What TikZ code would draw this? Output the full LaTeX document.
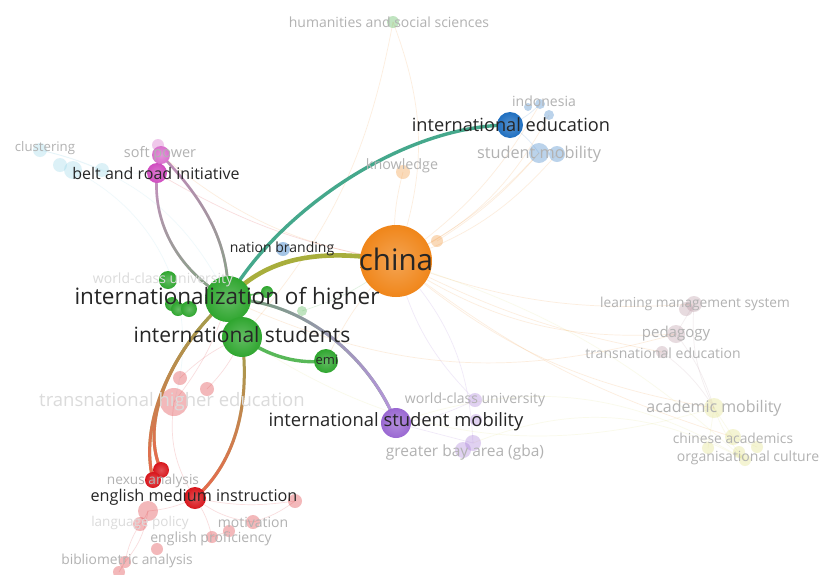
\documentclass[tikz,border=0pt]{standalone}
\usepackage{fontspec}
\setmainfont{Open Sans}
\usetikzlibrary{fadings}
\definecolor{vorange}{HTML}{F0861A}
\definecolor{vgreen}{HTML}{2FA62F}
\definecolor{vblue}{HTML}{1F6FC0}
\definecolor{vpurple}{HTML}{9A68D2}
\definecolor{vmag}{HTML}{D04CC0}
\definecolor{vred}{HTML}{D8161C}
\definecolor{vcyan}{HTML}{8ED3E6}
\definecolor{vmauve}{HTML}{B08896}
\definecolor{vyellow}{HTML}{DCDC70}
\definecolor{vteal}{HTML}{45A88C}
\definecolor{volive}{HTML}{A8AE3C}
\tikzfading[name=fadedown, top color=transparent!100, bottom color=transparent!0]
\tikzfading[name=faderight, left color=transparent!100, right color=transparent!0]
\tikzset{
  kw/.style={circle,inner sep=0pt,minimum size=#1},
  ball/.style={shading=radial,inner color=#1!75!white,outer color=#1},
  dimball/.style={fill=#1,opacity=.3},
  lab/.style={font=\fontsize{#1}{#1}\selectfont,text=black!85,inner sep=0pt},
  dimlab/.style={font=\fontsize{#1}{#1}\selectfont,text=black!30,inner sep=0pt},
  ghostlab/.style={font=\fontsize{#1}{#1}\selectfont,text=black!14,inner sep=0pt},
  faint/.style={line width=.7pt,draw opacity=.14},
  link/.style={line width=#1,line cap=round}
}
\begin{document}
\begin{tikzpicture}[x=1pt,y=-1pt]
\fill[white] (0,0) rectangle (821,574);
\useasboundingbox (0,0) rectangle (821,574);
% main terms
\coordinate (china) at (396,261);
\coordinate (ihe) at (228,299);
\coordinate (ist) at (242,337);
\coordinate (emi) at (326,361);
\coordinate (ism) at (396,423);
\coordinate (ied) at (510,125);
\coordinate (bri) at (157,173);
\coordinate (soft) at (161,155);
\coordinate (nbr) at (283,249);
\coordinate (emin) at (195,498);
\coordinate (nexa) at (161,470);
\coordinate (nexb) at (153,480);
\coordinate (g1) at (168,280);
\coordinate (g2) at (172,304);
\coordinate (g3) at (178,309);
\coordinate (g4) at (189,309);
\coordinate (g5) at (267,292);
% faded terms
\coordinate (hum) at (393,22);
\coordinate (know) at (403,172);
\coordinate (orsm) at (437,241);
\coordinate (smob) at (539,153);
\coordinate (smob2) at (557,154);
\coordinate (indo) at (540,104);
\coordinate (indo2) at (549,115);
\coordinate (indo3) at (528,107);
\coordinate (clu) at (40,150);
\coordinate (clu2) at (60,165);
\coordinate (clu3) at (73,170);
\coordinate (clu4) at (102,170);
\coordinate (softb) at (158,145);
\coordinate (g6) at (302,311);
\coordinate (wcu) at (475,400);
\coordinate (wcu2) at (476,420);
\coordinate (gba) at (473,443);
\coordinate (gba2) at (463,450);
\coordinate (lms) at (694,304);
\coordinate (lms2) at (686,309);
\coordinate (ped) at (676,334);
\coordinate (tne) at (662,352);
\coordinate (acm) at (714,408);
\coordinate (cha) at (733,437);
\coordinate (cha2) at (708,448);
\coordinate (cha3) at (739,452);
\coordinate (cha4) at (757,447);
\coordinate (orc) at (745,460);
\coordinate (r1) at (180,378);
\coordinate (r2) at (207,389);
\coordinate (the) at (174,402);
\coordinate (r4) at (148,511);
\coordinate (lang) at (140,524);
\coordinate (r6) at (157,549);
\coordinate (bib) at (125,562);
\coordinate (bib2) at (119,572);
\coordinate (engp) at (212,537);
\coordinate (r11) at (229,531);
\coordinate (mot) at (253,522);
\coordinate (r12) at (295,501);
% faint links
\foreach \a/\b/\c/\d in {china/know/vorange/10, china/hum/vorange/-20, hum/ist/vorange/15,
  china/smob/vorange/-10, china/smob2/vorange/-15, china/indo/vorange/-12, china/indo2/vorange/-18,
  ied/smob/vblue/10, ied/indo/vblue/-10, china/lms/vorange/-12, china/ped/vorange/-18,
  china/tne/vorange/-8, china/acm/vorange/-15, china/cha/vorange/-10, china/orc/vyellow/12,
  china/wcu/vpurple/-15, china/gba/vpurple/20, ism/wcu/vpurple/-10, gba/orc/vyellow/25,
  ihe/clu/vcyan/-25, clu3/the/vcyan/40, bri/clu4/vcyan/5, clu/clu4/vcyan/5, soft/china/vorange/-15,
  bri/china/vred/-10, ihe/the/vred/10, ist/r1/vred/-10, ist/r2/vred/10, emin/r4/vred/10,
  emin/mot/vred/-15, emin/r12/vred/-10, emin/engp/vred/10, r4/lang/vred/10, lang/bib/vred/-10,
  bib/bib2/vred/0, engp/r11/vred/0, mot/r12/vred/-10, the/emin/vred/-20, r4/bib/vred/15,
  ped/acm/vmauve/10, lms/acm/vmauve/-15, tne/acm/vmauve/10, lms/ped/vmauve/0, acm/cha/vyellow/0,
  acm/cha2/vyellow/0, acm/orc/vyellow/-10, cha/cha4/vyellow/0, ihe/ped/vorange/-20,
  ist/acm/vyellow/-25, g6/china/vgreen/-10, orsm/smob/vorange/-8, emi/china/vorange/10,
  ism/gba/vpurple/0, ism/orc/vyellow/25}
  \draw[faint,\c] (\a) to[bend left=\d] (\b);
% faded circles
\foreach \p/\s/\c in {hum/12/vgreen, know/14/vorange, orsm/12/vorange, smob/20/vblue, smob2/16/vblue,
  indo/10/vblue, indo2/10/vblue, indo3/8/vblue, clu/14/vcyan, clu2/14/vcyan, clu3/18/vcyan,
  clu4/14/vcyan, softb/12/vmag, g6/10/vgreen, wcu/14/vpurple, wcu2/12/vpurple, gba/16/vpurple,
  gba2/16/vpurple, lms/16/vmauve, lms2/14/vmauve, ped/18/vmauve, tne/12/vmauve, acm/20/vyellow,
  cha/16/vyellow, cha2/12/vyellow, cha3/12/vyellow, cha4/12/vyellow, orc/12/vyellow, r1/14/vred,
  r2/14/vred, the/28/vred, r4/20/vred, lang/14/vred, r6/12/vred, bib/12/vred, bib2/12/vred,
  engp/12/vred, r11/12/vred, mot/14/vred, r12/14/vred}
  \node[kw=\s,dimball=\c] at (\p) {};
% strong links
\draw[link=2.6pt,vmag!55!gray!75] (soft) .. controls (200,195) and (230,240) .. (ihe);
\draw[link=2.6pt,vgreen!40!gray!80,path fading=fadedown] (soft) .. controls (200,195) and (230,240) .. (ihe);
\draw[link=2.6pt,vmag!60!gray!70] (bri) .. controls (152,225) and (180,272) .. (ihe);
\draw[link=2.6pt,vgreen!40!gray!80,path fading=fadedown] (bri) .. controls (152,225) and (180,272) .. (ihe);
\draw[link=3.4pt,vteal] (ihe) .. controls (275,215) and (400,125) .. (ied);
\draw[link=4.6pt,volive] (ihe) .. controls (262,262) and (310,246) .. (china);
\draw[link=3pt,vgreen!45!gray!90] (ihe) .. controls (305,300) and (372,360) .. (ism);
\draw[link=3pt,vpurple!70!white,path fading=faderight] (ihe) .. controls (305,300) and (372,360) .. (ism);
\draw[link=3.4pt,vgreen!80!white] (ist) .. controls (270,358) and (300,364) .. (emi);
\draw[link=1.6pt,vgreen!70!white] (ihe) -- (g5);
\foreach \t in {nexa,nexb} {
  \draw[link=3pt,volive!75!gray] (ihe) .. controls (175,345) and (138,420) .. (\t);
  \draw[link=3pt,vred!70!orange!75,path fading=fadedown] (ihe) .. controls (175,345) and (138,420) .. (\t);
}
\draw[link=3pt,volive!75!gray] (ist) .. controls (250,400) and (238,460) .. (emin);
\draw[link=3pt,vred!70!orange!75,path fading=fadedown] (ist) .. controls (250,400) and (238,460) .. (emin);
% strong circles
\node[kw=72,ball=vorange] (chinab) at (china) {};
\node[kw=18,ball=vgreen] at (g1) {};
\node[kw=14,ball=vgreen] at (g2) {};
\node[kw=14,ball=vgreen] at (g3) {};
\node[kw=16,ball=vgreen] at (g4) {};
\node[kw=12,ball=vgreen] at (g5) {};
\node[kw=46,ball=vgreen] (iheb) at (ihe) {};
\node[kw=40,ball=vgreen] (istb) at (ist) {};
\node[kw=24,ball=vgreen] (emib) at (emi) {};
\node[kw=30,ball=vpurple] (ismb) at (ism) {};
\node[kw=26,ball=vblue] (iedb) at (ied) {};
\node[kw=18,ball=vmag!80!white] (softbb) at (soft) {};
\node[kw=20,ball=vmag] (brib) at (bri) {};
\node[kw=14,fill=vblue!40!white] (nbrb) at (nbr) {};
\node[kw=22,ball=vred] (eminb) at (emin) {};
\node[kw=16,ball=vred] (nexab) at (nexa) {};
\node[kw=16,ball=vred] (nexbb) at (nexb) {};
% faded labels
\node[dimlab=14] at (389,22) {humanities and social sciences};
\node[dimlab=14] at (544,101) {indonesia};
\node[dimlab=16.3] at (539,154) {student mobility};
\node[dimlab=14.3] at (402,166) {knowledge};
\node[dimlab=13.2] at (45,148) {clustering};
\node[dimlab=14.5] at (160,154) {soft power};
\node[ghostlab=14] at (163,280) {world-class university};
\node[ghostlab=18.5] at (172,402) {transnational higher education};
\node[dimlab=14] at (475,400) {world-class university};
\node[dimlab=15.5] at (465,452) {greater bay area (gba)};
\node[dimlab=13.7] at (695,304) {learning management system};
\node[dimlab=15] at (676,334) {pedagogy};
\node[dimlab=14] at (663,353) {transnational education};
\node[dimlab=16] at (714,408) {academic mobility};
\node[dimlab=13.8] at (733,438) {chinese academics};
\node[dimlab=14] at (748,458) {organisational culture};
\node[dimlab=13.7] at (153,481) {nexus analysis};
\node[ghostlab=13.5] at (140,523) {language policy};
\node[dimlab=14] at (253,522) {motivation};
\node[dimlab=14] at (211,539) {english proficiency};
\node[dimlab=13.8] at (127,561) {bibliometric analysis};
% main labels
\node[lab=29.6] at (396,259) {china};
\node[lab=22.5] at (227,299) {internationalization of higher};
\node[lab=21] at (242,335) {international students};
\node[lab=18.4] at (396,422) {international student mobility};
\node[lab=18.2] at (511,125) {international education};
\node[lab=16] at (156,173) {belt and road initiative};
\node[lab=16.2] at (194,497) {english medium instruction};
\node[lab=14] at (282,249) {nation branding};
\node[lab=13] at (327,360) {emi};
\end{tikzpicture}
\end{document}
